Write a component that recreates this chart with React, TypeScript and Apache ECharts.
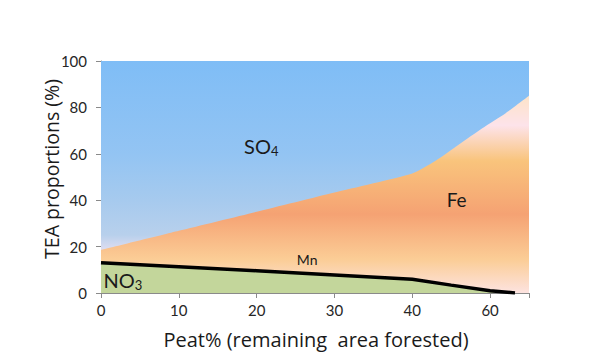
import React, { useEffect, useRef } from "react";
import * as echarts from "echarts";

const xTickLabels = ["0", "10", "20", "30", "40", "60"];
// x positions on the drawn axis (the source axis jumps from 40 to 60 at the last tick)
const so4Top = [[0, 100], [55, 100]];
const feTopX = [0, 10, 20, 30, 40, 43, 46, 49, 52, 55];
const feTopY = [18.5, 26.8, 35, 43.3, 51.5, 57, 64, 71, 77.5, 85];
const no3X = [0, 10, 20, 30, 40, 45, 50, 53.2];
const no3Y = [13, 11.3, 9.6, 7.8, 5.9, 3.4, 1.0, 0];

const FONT = "Lato";
const TITLE_FONT = "Open Sans";

export default function App() {
  const ref = useRef<HTMLDivElement>(null);
  useEffect(() => {
    const chart = echarts.init(ref.current!, null, { renderer: "svg" });
    const lg = (stops: [number, string][]) =>
      new echarts.graphic.LinearGradient(0, 0, 0, 1, stops.map(([offset, color]) => ({ offset, color })));
    chart.setOption({
      animation: false,
      grid: { left: 101, top: 61, right: 68, bottom: 67 },
      xAxis: {
        type: "value",
        min: 0,
        max: 55,
        interval: 10,
        splitLine: { show: false },
        axisLine: { lineStyle: { color: "#8a8a8a" } },
        axisTick: { show: true, length: 5, lineStyle: { color: "#8a8a8a" } },
        axisLabel: {
          fontFamily: FONT,
          fontSize: 15,
          color: "#262626",
          margin: 9,
          formatter: (v: number) => xTickLabels[Math.round(v / 10)] ?? "",
        },
      },
      yAxis: {
        type: "value",
        min: 0,
        max: 100,
        interval: 20,
        splitLine: { show: false },
        axisLine: { show: true, lineStyle: { color: "#8a8a8a" } },
        axisTick: { show: true, length: 5, lineStyle: { color: "#8a8a8a" } },
        axisLabel: { fontFamily: FONT, fontSize: 15, color: "#262626", margin: 14 },
      },
      series: [
        {
          type: "line",
          data: so4Top,
          symbol: "none",
          lineStyle: { width: 0 },
          areaStyle: {
            opacity: 1,
            color: lg([
              [0, "#7fbdf6"],
              [0.4, "#93c4f3"],
              [0.6, "#a6caee"],
              [0.75, "#b8d0ec"],
              [0.81, "#dcdcf0"],
              [0.85, "#f3e2ee"],
              [1, "#f3e2ee"],
            ]),
          },
          z: 1,
        },
        {
          type: "line",
          data: feTopX.map((x, i) => [x, feTopY[i]]),
          symbol: "none",
          smooth: 0.2,
          lineStyle: { width: 0 },
          areaStyle: {
            opacity: 1,
            color: lg([
              [0, "#fde3c8"],
              [0.15, "#fde3ea"],
              [0.33, "#f9c47c"],
              [0.6, "#f5a273"],
              [0.83, "#fbcd96"],
              [1, "#fde3e0"],
            ]),
          },
          z: 2,
        },
        {
          type: "line",
          data: no3X.map((x, i) => [x, no3Y[i]]),
          symbol: "none",
          lineStyle: { width: 3.5, color: "#000" },
          areaStyle: { opacity: 1, color: "#c3d69b" },
          z: 3,
        },
      ],
    });
    const p = (x: number, y: number) => chart.convertToPixel({ gridIndex: 0 }, [x, y]) as number[];
    const so4 = p(20.6, 63.5);
    const fe = p(45.7, 40.5);
    const mn = p(26.5, 14.3);
    const no3 = p(2.8, 5.5);
    const txt = (pos: number[], text: string, size: number, rich?: any) => ({
      type: "text",
      x: pos[0],
      y: pos[1],
      z: 10,
      style: {
        text,
        fontFamily: FONT,
        fontSize: size,
        fill: "#1a1a1a",
        align: "center",
        verticalAlign: "middle",
        rich,
      },
    });
    chart.setOption({
      graphic: [
        txt(so4, "{a|SO}{b|4}", 20, {
          a: { fontFamily: FONT, fontSize: 20, color: "#1a1a1a" },
          b: { fontFamily: FONT, fontSize: 13, color: "#1a1a1a", padding: [10, 0, 0, 0] },
        }),
        txt(fe, "Fe", 19),
        txt(mn, "Mn", 14),
        txt(no3, "{a|NO}{b|3}", 20, {
          a: { fontFamily: FONT, fontSize: 20, color: "#1a1a1a" },
          b: { fontFamily: FONT, fontSize: 13, color: "#1a1a1a", padding: [10, 0, 0, 0] },
        }),
        {
          type: "text",
          x: 316,
          y: 339,
          style: {
            text: "Peat% (remaining  area forested)",
            fontFamily: TITLE_FONT,
            fontSize: 20,
            fill: "#1a1a1a",
            align: "center",
            verticalAlign: "middle",
          },
        },
        {
          type: "text",
          x: 51,
          y: 169,
          rotation: Math.PI / 2,
          style: {
            text: "TEA proportions (%)",
            fontFamily: TITLE_FONT,
            fontSize: 19.5,
            fill: "#1a1a1a",
            align: "center",
            verticalAlign: "middle",
          },
        },
      ],
    });
    return () => chart.dispose();
  }, []);
  return <div ref={ref} style={{ width: 597, height: 360, position: "absolute", left: 0, top: 0 }} />;
}
